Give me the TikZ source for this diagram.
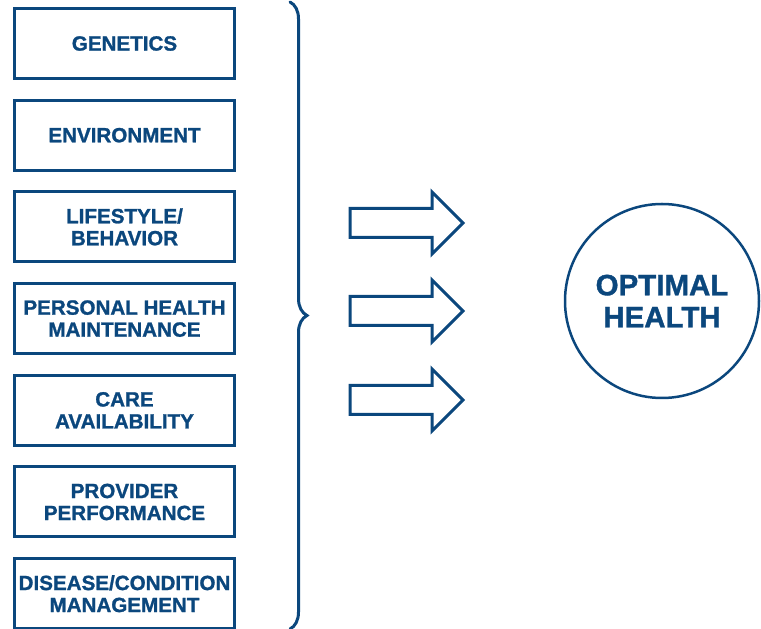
\documentclass[tikz,border=0pt]{standalone}
\usepackage{fontspec}
\setmainfont{Liberation Sans}[BoldFeatures={FakeBold=1.2}]
\usetikzlibrary{positioning,shapes.arrows,decorations.pathreplacing}
\definecolor{healthblue}{HTML}{0B477D}

\begin{document}
\begin{tikzpicture}[x=1pt,y=1pt]
	\tikzset{
	  FactorStyle/.style = { draw = healthblue, line width = 3pt, text = healthblue,
	                         minimum width = 220pt, minimum height = 70pt,
	                         inner sep = 0pt, align = center,
	                         font = \fontsize{20.6}{22}\selectfont\bfseries },
	  ArrowStyle/.style = { single arrow, draw = healthblue, line width = 3pt,
	                        minimum height = 113pt, inner xsep = 0pt, inner ysep = 13pt,
	                        single arrow head extend = 16.5pt, anchor = tail },
	  GoalStyle/.style = { circle, draw = healthblue, line width = 2.5pt,
	                       text = healthblue, minimum size = 194pt, align = center,
	                       font = \fontsize{29.5}{32}\selectfont\bfseries },
	  BraceStyle/.style = { draw = healthblue, line width = 3pt, line cap = round,
	                        decorate, decoration = {brace, amplitude = 17pt} },
	  node distance = 18.7pt }
%	\draw[help lines] (0, 0) grid[step=50] (761, 629);
	\useasboundingbox (0,0) rectangle (761,629);
	\node[FactorStyle] (genetics) at (124.5,585.5) {GENETICS};
	\node[FactorStyle, below = of genetics] (environment) {ENVIRONMENT};
	\node[FactorStyle, below = of environment] (lifestyle) {LIFESTYLE/\\BEHAVIOR};
	\node[FactorStyle, below = of lifestyle] (maintenance) {PERSONAL HEALTH\\MAINTENANCE};
	\node[FactorStyle, below = of maintenance] (care) {CARE\\AVAILABILITY};
	\node[FactorStyle, below = of care] (provider) {PROVIDER\\PERFORMANCE};
	\node[FactorStyle, below = of provider] (disease) {DISEASE/CONDITION\\MANAGEMENT};
	% brace
	\coordinate (bracetop) at (290,627);
	\coordinate (bracebot) at (290,0);
	\draw[BraceStyle] (bracetop) -- (bracebot);
	% arrows
	\node[ArrowStyle] (arrowtop) at (348.5,406) {};
	\node[ArrowStyle] (arrowmid) at (348.5,318) {};
	\node[ArrowStyle] (arrowbot) at (348.5,229) {};
	% goal
	\node[GoalStyle] (health) at (662,328) {OPTIMAL\\HEALTH};
\end{tikzpicture}
\end{document}
